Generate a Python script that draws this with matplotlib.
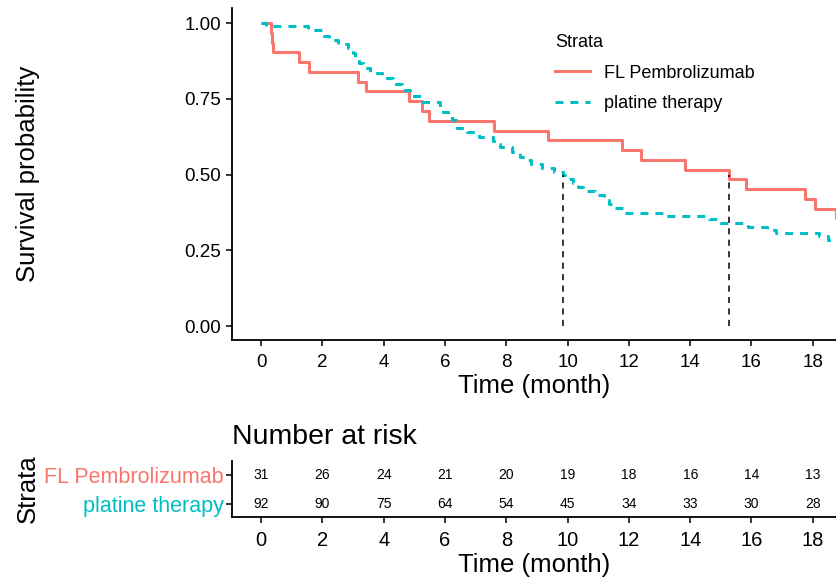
import matplotlib
matplotlib.use("Agg")
import matplotlib.pyplot as plt
from matplotlib.lines import Line2D

plt.rcParams['font.family'] = ['Liberation Sans', 'DejaVu Sans']

RED = "#F8766D"
CYAN = "#00BFC4"

# ---- data ----
groups = ["FL Pembrolizumab", "platine therapy"]

pembro_t = [0, 0.32, 0.34, 0.39, 1.22, 1.55, 3.16, 3.43, 4.81, 5.25, 5.49, 7.59, 9.37,
            11.79, 12.39, 13.82, 15.27, 15.82, 17.75, 18.08, 18.75]
pembro_s = [1.0, 0.968, 0.935, 0.903, 0.871, 0.839, 0.806, 0.774, 0.742, 0.710, 0.677,
            0.645, 0.613, 0.581, 0.548, 0.516, 0.484, 0.452, 0.419, 0.387, 0.355]

platine_t = [0, 0.15, 1.54, 2.05, 2.2, 2.5, 2.84, 3.0, 3.07, 3.2, 3.33, 3.56, 3.95, 4.3,
             4.6, 4.87, 5.23, 5.85, 5.95, 6.1, 6.24, 6.35, 6.4, 6.73, 7.1, 7.55, 7.7, 7.8,
             8.2, 8.46, 8.65, 8.79, 9.18, 9.54, 9.85, 10.05, 10.16, 10.35, 10.5, 10.9,
             11.2, 11.35, 11.5, 11.8, 13.2, 14.6, 14.9, 15.9, 16.5, 16.8, 18.2, 18.5]
platine_s = [1.0, 0.989, 0.978, 0.956, 0.944, 0.931, 0.917, 0.900, 0.884, 0.867, 0.851,
             0.835, 0.818, 0.800, 0.779, 0.760, 0.740, 0.722, 0.707, 0.694, 0.680, 0.666,
             0.653, 0.641, 0.624, 0.612, 0.602, 0.592, 0.575, 0.559, 0.547, 0.535, 0.521,
             0.509, 0.497, 0.485, 0.472, 0.459, 0.446, 0.433, 0.416, 0.402, 0.389, 0.373,
             0.363, 0.352, 0.340, 0.328, 0.318, 0.307, 0.296, 0.284]

median_times = [15.27, 9.85]

risk_times = [0, 2, 4, 6, 8, 10, 12, 14, 16, 18]
risk_pembro = [31, 26, 24, 21, 20, 19, 18, 16, 14, 13]
risk_platine = [92, 90, 75, 64, 54, 45, 34, 33, 30, 28]

y_ticks = [0.0, 0.25, 0.5, 0.75, 1.0]
y_ticklabels = ["0.00", "0.25", "0.50", "0.75", "1.00"]

# ---- figure ----
W, H = 837, 585
fig = plt.figure(figsize=(W / 100, H / 100), dpi=100)

def rect(x0, y0, x1, y1):
    return [x0 / W, 1 - y1 / H, (x1 - x0) / W, (y1 - y0) / H]

XLIM = (-0.95, 18.79)
LABEL_X_PX = 40

ax = fig.add_axes(rect(232, 8, 837, 340))
ax.step(pembro_t + [19.5], pembro_s + [pembro_s[-1]], where="post", color=RED, lw=2.2,
        label=groups[0], solid_capstyle="butt")
ax.step(platine_t + [19.5], platine_s + [platine_s[-1]], where="post", color=CYAN, lw=2.2,
        dashes=(2.6, 2.3), label=groups[1])
for m in median_times:
    ax.plot([m, m], [0, 0.5], color="black", lw=1.1, dashes=(4, 3.5))

ax.set_xlim(*XLIM)
ax.set_ylim(-0.046, 1.0495)
ax.set_xticks(risk_times)
ax.set_yticks(y_ticks)
ax.set_yticklabels(y_ticklabels)
for s in ["top", "right"]:
    ax.spines[s].set_visible(False)
for s in ["left", "bottom"]:
    ax.spines[s].set_linewidth(1.3)
ax.tick_params(axis="both", labelsize=13.5, width=1.1, length=4, colors="black")
ax.tick_params(axis="x", pad=6)
ax.tick_params(axis="y", pad=4)
ax.set_xlabel("Time (month)", fontsize=18.5, labelpad=2)
ax.set_ylabel("Survival probability", fontsize=18.5)
ax.yaxis.set_label_coords((LABEL_X_PX - 232) / (837 - 232), 0.5)

leg_handles = [Line2D([], [], color=RED, lw=2.2),
               Line2D([], [], color=CYAN, lw=2.2, dashes=(2.6, 2.3))]
leg = ax.legend(leg_handles, groups, title="Strata", loc="upper left",
                bbox_to_anchor=((548 - 232) / (837 - 232), 1 - (27 - 8) / 332),
                frameon=False, fontsize=13, title_fontsize=13, handlelength=1.9,
                handletextpad=0.8, labelspacing=0.75, alignment="left", borderaxespad=0)

# ---- risk table ----
tx = fig.add_axes(rect(232, 461, 837, 517))
for t, n1, n2 in zip(risk_times, risk_pembro, risk_platine):
    tx.text(t, 2, str(n1), ha="center", va="center", fontsize=10)
    tx.text(t, 1, str(n2), ha="center", va="center", fontsize=10)
tx.set_xlim(*XLIM)
tx.set_ylim(0.552, 2.483)
tx.set_xticks(risk_times)
tx.set_yticks([2, 1])
tx.set_yticklabels(groups, fontsize=15.5)
for lbl, c in zip(tx.get_yticklabels(), [RED, CYAN]):
    lbl.set_color(c)
for s in ["top", "right"]:
    tx.spines[s].set_visible(False)
for s in ["left", "bottom"]:
    tx.spines[s].set_linewidth(1.3)
tx.tick_params(axis="x", labelsize=14.5, width=1.1, length=4, pad=6)
tx.tick_params(axis="y", width=1.1, length=4, pad=2)
tx.set_xlabel("Time (month)", fontsize=18.5, labelpad=2)
tx.set_ylabel("Strata", fontsize=18.5)
tx.yaxis.set_label_coords((LABEL_X_PX - 232) / (837 - 232), 0.5)
tx.set_title("Number at risk", fontsize=20.5, loc="left", pad=12)

fig.savefig("out.png", dpi=100)
